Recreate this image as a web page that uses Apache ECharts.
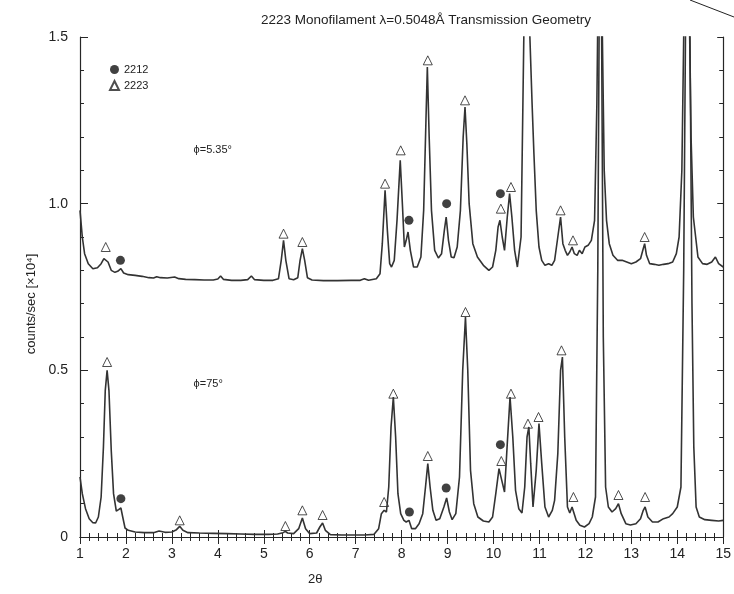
<!DOCTYPE html>
<html><head><meta charset="utf-8">
<script src="https://cdn.jsdelivr.net/npm/echarts@6/dist/echarts.min.js"></script>
<style>html,body{margin:0;padding:0;background:#fff}#c{width:734px;height:594px}</style>
</head><body><div id="c"></div>
<script>
// ---- data ----
const titleText = '2223 Monofilament \u03bb=0.5048\u00c5 Transmission Geometry';
const xTicks = [1,2,3,4,5,6,7,8,9,10,11,12,13,14,15];
const yTicks = [0,0.5,1.0,1.5];

// upper trace, phi = 5.35 deg  [2theta, counts/sec x1e4]
const tracePhi535 = [
[1.00,0.98],[1.05,0.90],[1.10,0.85],[1.18,0.82],[1.28,0.805],[1.38,0.808],[1.46,0.82],[1.52,0.835],[1.56,0.838],[1.61,0.825],[1.68,0.80],[1.76,0.794],[1.82,0.797],[1.89,0.805],[1.95,0.792],[2.05,0.787],[2.20,0.785],[2.35,0.782],[2.50,0.778],[2.60,0.777],[2.67,0.781],[2.75,0.778],[2.90,0.777],[3.06,0.780],[3.15,0.775],[3.30,0.773],[3.50,0.772],[3.70,0.771],[3.90,0.771],[4.00,0.774],[4.06,0.783],[4.12,0.773],[4.30,0.770],[4.50,0.770],[4.65,0.772],[4.73,0.783],[4.80,0.772],[5.00,0.770],[5.20,0.770],[5.32,0.775],[5.38,0.83],[5.43,0.89],[5.48,0.83],[5.55,0.775],[5.65,0.772],[5.74,0.778],[5.79,0.83],[5.84,0.865],[5.89,0.83],[5.95,0.778],[6.05,0.771],[6.30,0.769],[6.60,0.769],[6.90,0.770],[7.10,0.770],[7.19,0.775],[7.28,0.770],[7.45,0.775],[7.53,0.79],[7.58,0.88],[7.64,1.04],[7.69,0.92],[7.74,0.82],[7.78,0.81],[7.84,0.83],[7.90,0.95],[7.97,1.13],[8.02,0.99],[8.06,0.87],[8.10,0.89],[8.14,0.915],[8.19,0.86],[8.26,0.81],[8.34,0.81],[8.42,0.84],[8.48,0.98],[8.53,1.25],[8.56,1.41],[8.60,1.20],[8.65,0.98],[8.72,0.86],[8.80,0.837],[8.87,0.85],[8.93,0.92],[8.97,0.96],[9.02,0.89],[9.08,0.84],[9.14,0.838],[9.21,0.87],[9.28,0.98],[9.34,1.20],[9.38,1.29],[9.42,1.18],[9.47,1.00],[9.55,0.88],[9.65,0.84],[9.78,0.815],[9.90,0.80],[9.98,0.81],[10.05,0.86],[10.10,0.93],[10.14,0.95],[10.19,0.90],[10.24,0.86],[10.30,0.96],[10.35,1.03],[10.40,0.96],[10.46,0.86],[10.52,0.81],[10.56,0.807],[10.60,0.90],[10.64,1.30],[10.68,1.70],[10.72,1.75],[10.78,1.55],[10.84,1.30],[10.88,1.15],[10.93,0.98],[10.99,0.87],[11.05,0.83],[11.12,0.815],[11.20,0.82],[11.27,0.815],[11.33,0.83],[11.40,0.90],[11.46,0.96],[11.51,0.88],[11.56,0.86],[11.61,0.845],[11.66,0.855],[11.71,0.87],[11.76,0.85],[11.82,0.845],[11.87,0.86],[11.93,0.85],[11.99,0.87],[12.06,0.875],[12.13,0.89],[12.20,0.95],[12.25,1.30],[12.29,1.80],[12.33,1.90],[12.37,1.50],[12.41,1.10],[12.46,0.95],[12.52,0.88],[12.60,0.845],[12.70,0.83],[12.80,0.83],[12.90,0.825],[13.00,0.82],[13.10,0.825],[13.20,0.835],[13.25,0.86],[13.29,0.88],[13.33,0.845],[13.40,0.82],[13.50,0.818],[13.60,0.815],[13.70,0.818],[13.80,0.82],[13.90,0.825],[13.98,0.85],[14.04,0.90],[14.10,1.10],[14.15,1.60],[14.20,1.90],[14.25,1.70],[14.30,1.20],[14.35,0.96],[14.40,0.90],[14.45,0.84],[14.55,0.82],[14.65,0.818],[14.75,0.825],[14.83,0.84],[14.90,0.82],[15.00,0.81]
];

// lower trace, phi = 75 deg
const tracePhi75 = [
[1.00,0.18],[1.05,0.13],[1.12,0.085],[1.20,0.055],[1.28,0.043],[1.34,0.042],[1.40,0.06],[1.46,0.12],[1.51,0.27],[1.55,0.44],[1.59,0.50],[1.63,0.44],[1.68,0.26],[1.73,0.13],[1.79,0.078],[1.84,0.082],[1.89,0.087],[1.93,0.06],[1.98,0.027],[2.05,0.02],[2.20,0.015],[2.40,0.013],[2.60,0.013],[2.72,0.018],[2.85,0.014],[3.00,0.015],[3.10,0.022],[3.17,0.032],[3.24,0.02],[3.35,0.013],[3.60,0.012],[3.90,0.011],[4.20,0.010],[4.50,0.009],[4.80,0.008],[5.10,0.008],[5.30,0.009],[5.42,0.013],[5.47,0.017],[5.52,0.012],[5.65,0.010],[5.76,0.025],[5.84,0.057],[5.91,0.025],[6.00,0.010],[6.15,0.012],[6.22,0.03],[6.28,0.042],[6.34,0.02],[6.45,0.007],[6.70,0.006],[7.00,0.006],[7.20,0.006],[7.40,0.008],[7.50,0.025],[7.56,0.07],[7.62,0.08],[7.67,0.075],[7.72,0.15],[7.77,0.33],[7.82,0.42],[7.87,0.30],[7.92,0.13],[7.98,0.07],[8.05,0.05],[8.10,0.045],[8.16,0.05],[8.22,0.025],[8.30,0.025],[8.38,0.04],[8.46,0.07],[8.52,0.15],[8.57,0.22],[8.62,0.15],[8.68,0.08],[8.75,0.05],[8.83,0.055],[8.92,0.09],[8.98,0.117],[9.04,0.075],[9.10,0.052],[9.18,0.07],[9.26,0.18],[9.33,0.50],[9.39,0.66],[9.44,0.50],[9.50,0.20],[9.57,0.10],[9.66,0.06],[9.78,0.048],[9.90,0.045],[9.98,0.06],[10.05,0.13],[10.12,0.205],[10.18,0.17],[10.24,0.135],[10.30,0.28],[10.36,0.42],[10.42,0.30],[10.48,0.14],[10.55,0.085],[10.62,0.072],[10.68,0.15],[10.73,0.30],[10.77,0.33],[10.81,0.22],[10.86,0.09],[10.93,0.20],[10.99,0.34],[11.05,0.22],[11.12,0.09],[11.20,0.06],[11.28,0.08],[11.33,0.11],[11.40,0.25],[11.46,0.50],[11.50,0.54],[11.55,0.30],[11.61,0.09],[11.66,0.072],[11.71,0.09],[11.75,0.096],[11.80,0.05],[11.88,0.035],[11.98,0.03],[12.08,0.04],[12.15,0.06],[12.22,0.12],[12.27,0.80],[12.31,1.80],[12.35,1.60],[12.39,0.60],[12.44,0.15],[12.50,0.09],[12.58,0.075],[12.66,0.085],[12.72,0.10],[12.78,0.07],[12.88,0.04],[12.98,0.036],[13.10,0.04],[13.20,0.055],[13.26,0.08],[13.30,0.09],[13.36,0.06],[13.46,0.045],[13.58,0.045],[13.70,0.055],[13.82,0.06],[13.90,0.07],[14.00,0.09],[14.08,0.15],[14.14,0.80],[14.20,1.90],[14.26,1.80],[14.32,0.70],[14.36,0.27],[14.41,0.09],[14.48,0.06],[14.60,0.052],[14.75,0.05],[14.90,0.048],[15.00,0.05]
];

// peak markers: 2212 phase (filled circles)
const marks2212 = [
[1.88,0.83],[8.16,0.95],[8.98,1.00],[10.15,1.03],
[1.89,0.115],[8.17,0.075],[8.97,0.147],[10.15,0.277]
];
// peak markers: 2223 phase (open triangles)
const marks2223 = [
[1.56,0.87],[5.43,0.91],[5.84,0.885],[7.64,1.06],[7.98,1.16],[8.57,1.43],[9.38,1.31],[10.16,0.985],[10.38,1.05],[11.46,0.98],[11.73,0.89],[13.29,0.90],
[1.59,0.525],[3.17,0.05],[5.47,0.033],[5.84,0.08],[6.28,0.066],[7.62,0.105],[7.82,0.43],[8.57,0.243],[9.39,0.675],[10.17,0.228],[10.38,0.43],[10.75,0.34],[10.98,0.36],[11.48,0.56],[11.74,0.12],[12.72,0.126],[13.30,0.12]
];

const annotations = [
  {text:'\u03d5=5.35\u00b0', at:[3.89,1.16]},
  {text:'\u03d5=75\u00b0', at:[3.79,0.46]}
];

const FONT = '"Liberation Sans", "DejaVu Sans", sans-serif';
const ink = '#262626';

const chart = echarts.init(document.getElementById('c'));
const axisCommon = {
  axisLine:{show:true, lineStyle:{color:ink, width:1.2}},
  splitLine:{show:false},
};
chart.setOption({
  animation:false,
  backgroundColor:'#fff',
  title:{text:titleText, left:421, top:8, textAlign:'center',
    textStyle:{fontFamily:FONT, fontSize:13.5, fontWeight:'normal', color:'#222'}},
  grid:{left:80, right:9, top:37, bottom:57},
  legend:{orient:'vertical', left:104, top:59, itemWidth:9, itemHeight:9, itemGap:5,
    data:['2212','2223'], textStyle:{fontFamily:FONT, fontSize:11, color:'#222'}},
  xAxis:[
    Object.assign({type:'value', min:1, max:15, interval:1, position:'bottom',
      axisTick:{show:true, inside:true, length:7, lineStyle:{color:ink}},
      minorTick:{show:true, splitNumber:5, length:4, lineStyle:{color:ink}},
      axisLabel:{show:true, margin:10, fontFamily:FONT, fontSize:14, color:'#222',
        formatter:v=> xTicks.indexOf(v)>=0 ? String(v) : ''}}, axisCommon),
    Object.assign({type:'value', min:1, max:15, interval:1, position:'top',
      axisTick:{show:true, inside:true, length:7, lineStyle:{color:ink}},
      minorTick:{show:true, splitNumber:5, length:4, lineStyle:{color:ink}},
      axisLabel:{show:false}}, axisCommon)
  ],
  yAxis:[
    Object.assign({type:'value', min:0, max:1.5, interval:0.5, position:'left',
      name:'counts/sec [\u00d710\u2074]', nameLocation:'middle', nameGap:42, nameRotate:90,
      nameTextStyle:{fontFamily:FONT, fontSize:13, color:'#222', padding:[0,0,0,-34]},
      axisTick:{show:true, inside:true, length:8, lineStyle:{color:ink}},
      minorTick:{show:true, splitNumber:5, length:4, lineStyle:{color:ink}},
      axisLabel:{show:true, margin:12, fontFamily:FONT, fontSize:14, color:'#222',
        formatter:v=> v===0 ? '0' : v.toFixed(1)}}, axisCommon),
    Object.assign({type:'value', min:0, max:1.5, interval:0.5, position:'right',
      axisTick:{show:true, inside:true, length:6, lineStyle:{color:ink}},
      minorTick:{show:true, splitNumber:5, length:4, lineStyle:{color:ink}},
      axisLabel:{show:false}}, axisCommon)
  ],
  graphic:[
    {type:'text', left:308, top:573, style:{text:'2\u03b8', font:'13px '+FONT, fill:'#222'}},
    {type:'line', shape:{x1:690, y1:0, x2:734, y2:17}, style:{stroke:'#222', lineWidth:1}}
  ],
  series:[
    {name:'phi535', type:'line', data:tracePhi535, showSymbol:false, symbol:'none', clip:true,
      lineStyle:{color:'#333', width:1.6},
      markPoint:{symbol:'circle', symbolSize:0, silent:true,
        data:[{coord:annotations[0].at, value:annotations[0].text}],
        label:{show:true, formatter:p=>p.value, fontFamily:FONT, fontSize:11, color:'#222'}}},
    {name:'phi75', type:'line', data:tracePhi75, showSymbol:false, symbol:'none', clip:true,
      lineStyle:{color:'#333', width:1.6},
      markPoint:{symbol:'circle', symbolSize:0, silent:true,
        data:[{coord:annotations[1].at, value:annotations[1].text}],
        label:{show:true, formatter:p=>p.value, fontFamily:FONT, fontSize:11, color:'#222'}}},
    {name:'2212', type:'scatter', data:marks2212, symbol:'circle', symbolSize:9,
      itemStyle:{color:'#111'}},
    {name:'2223', type:'scatter', data:marks2223, symbol:'triangle', symbolSize:9,
      itemStyle:{color:'#fff', borderColor:'#222', borderWidth:1}}
  ]
});
</script></body></html>
